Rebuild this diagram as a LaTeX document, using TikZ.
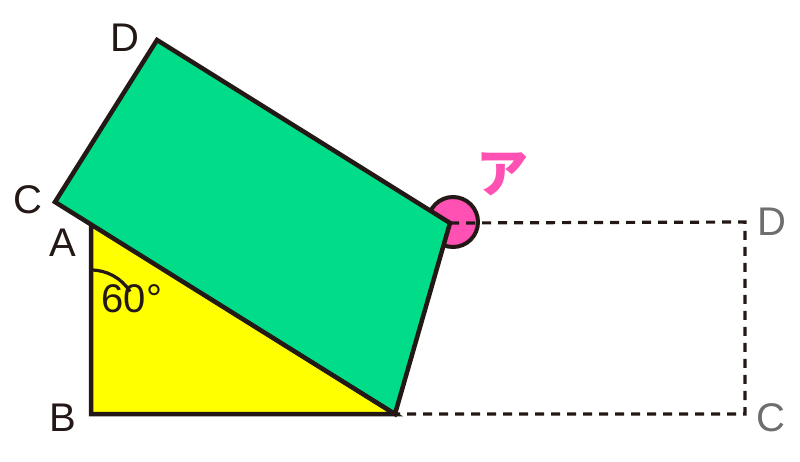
\documentclass[tikz,border=0pt]{standalone}
\usepackage{fontspec}
\usetikzlibrary{calc}
\setmainfont{Liberation Sans}
\newfontfamily\jp{Noto Sans CJK JP}
\definecolor{ink}{HTML}{231815}
\definecolor{grn}{HTML}{00DC87}
\definecolor{yel}{HTML}{FFFF00}
\definecolor{pnk}{HTML}{FF50B4}
\definecolor{gry}{HTML}{6E6E6E}
\begin{document}
\begin{tikzpicture}[x=1pt,y=-1pt,
  outline/.style={draw=ink,line width=4.5pt,line join=miter},
  lbl/.style={font=\fontsize{40}{40}\selectfont,text=ink,inner sep=0pt},
  glbl/.style={font=\fontsize{40}{40}\selectfont,text=gry,inner sep=0pt},
  dashline/.style={draw=ink,line width=3.2pt,dash pattern=on 9pt off 7pt}]
\useasboundingbox (0,0) rectangle (800,462);
% vertices
\coordinate (A) at (91,224);
\coordinate (B) at (91,414);
\coordinate (E) at (395,414);
\coordinate (C) at (55,202);
\coordinate (D) at (157,40);
\coordinate (R) at (450,223);
\coordinate (P) at (453,222);
\coordinate (D2) at (745,222);
\coordinate (C2) at (745,414);
% triangle
\fill[yel] (A) -- (B) -- (E) -- cycle;
\draw[outline] (A) -- (B) -- (E) -- cycle;
% angle arc
\draw[ink,line width=3.2pt] ($(A)+(0,46)$) arc[start angle=-90,end angle=-32,radius=46];
% pink circle
\draw[fill=pnk,draw=ink,line width=4pt] (P) circle[radius=25];
% dashed rectangle
\draw[dashline] (R) -- (D2) -- (C2) -- (E);
% green rectangle
\draw[outline,fill=grn] (C) -- (D) -- (R) -- (E) -- cycle;
% labels
\node[lbl] (lD) at (125,38) {D};
\node[lbl] (lC) at (28,200) {C};
\node[lbl] (lA) at (63,243) {A};
\node[lbl] (lB) at (63,418) {B};
\node[lbl] (l60) at (132,299) {60°};
\node[glbl] (lD2) at (772,222) {D};
\node[glbl] (lC2) at (771,418) {C};
\node[font=\jp\bfseries\fontsize{52}{52}\selectfont,text=pnk,inner sep=0pt] (la) at (502,174) {ア};
\end{tikzpicture}
\end{document}
